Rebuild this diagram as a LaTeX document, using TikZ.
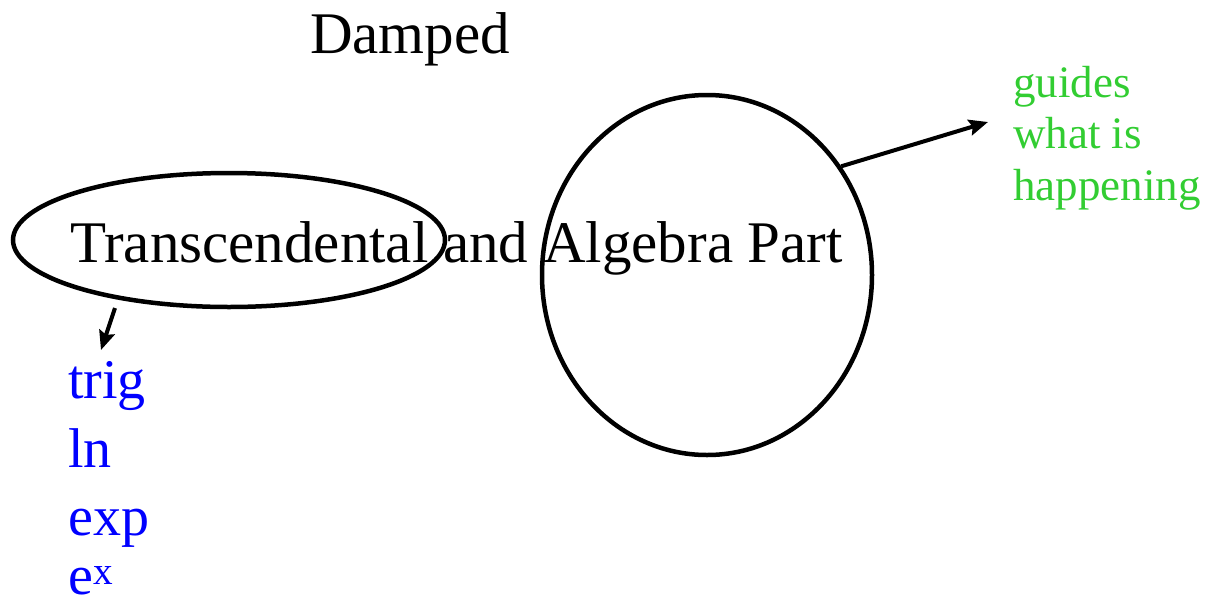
\documentclass[tikz,border=0pt]{standalone}
\usepackage{fontspec}
\setmainfont{Liberation Serif}
\usetikzlibrary{shapes.geometric,arrows.meta}
\definecolor{lblue}{RGB}{0,0,255}
\definecolor{lgreen}{RGB}{50,205,50}
\tikzset{
  oval/.style={draw=black, line width=4.5pt, ellipse, inner sep=0pt},
  bigtxt/.style={font=\fontsize{59}{70}\selectfont, inner sep=0pt, anchor=base west},
  bluetxt/.style={font=\fontsize{56}{68}\selectfont, text=lblue, inner sep=0pt, anchor=base west},
  greentxt/.style={font=\fontsize{45}{52}\selectfont, text=lgreen, inner sep=0pt, anchor=base west},
  arr/.style={line width=4pt, -{Stealth[length=19pt,width=16pt,inset=3pt]}}
}
\begin{document}
\begin{tikzpicture}[x=1pt,y=-1pt]
\useasboundingbox (0,0) rectangle (1208,603);
% ellipses
\node[oval, minimum width=432pt, minimum height=134pt] (lell) at (229,240) {};
\node[oval, minimum width=330pt, minimum height=360pt] (bell) at (707,275) {};
% texts
\node[bigtxt] (damped) at (310,53) {Damped};
\node[bigtxt] (main) at (70,262) {Transcendental and Algebra Part};
\node[bluetxt] (trig) at (68,398) {trig};
\node[bluetxt] (ln) at (68,467) {ln};
\node[bluetxt] (exp) at (68,535) {exp};
\node[bluetxt] (ex) at (68,594) {e\textsuperscript{x}};
\node[greentxt] (g1) at (1013,97) {guides};
\node[greentxt] (g2) at (1013,148) {what is};
\node[greentxt] (g3) at (1013,200) {happening};
% connectors
\coordinate (bstart) at (115,308);
\coordinate (bend) at (101,350);
\coordinate (gend) at (988,122);
\draw[arr] (bstart) -- (bend);
\draw[arr] (bell.39) -- (gend);
\end{tikzpicture}
\end{document}
